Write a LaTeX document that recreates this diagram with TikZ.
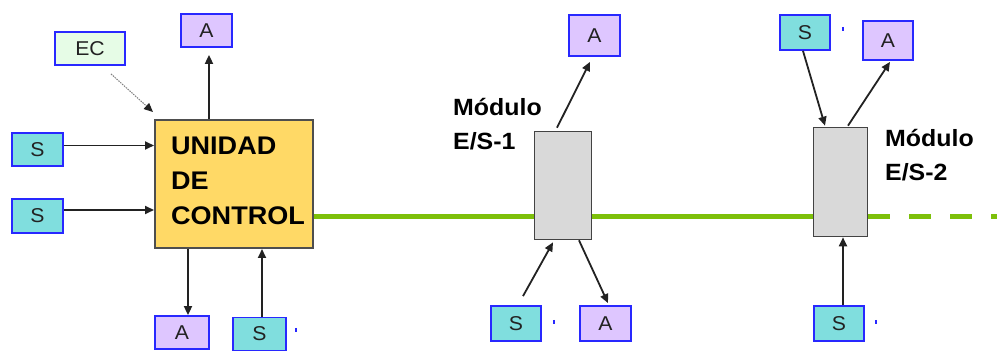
\documentclass[tikz,border=0pt]{standalone}
\usepackage{fontspec}
\setmainfont{Liberation Sans}
\newfontfamily\lblfont[FakeStretch=1.06]{Liberation Sans}
\usetikzlibrary{arrows.meta}
\definecolor{scol}{RGB}{128,222,222}
\definecolor{acol}{RGB}{222,198,255}
\definecolor{eccol}{RGB}{230,252,230}
\definecolor{bcol}{RGB}{40,40,255}
\definecolor{ucol}{RGB}{255,217,102}
\definecolor{mcol}{RGB}{217,217,217}
\definecolor{bus}{RGB}{125,192,10}
\definecolor{ink}{RGB}{34,34,34}
\tikzset{
  smallbox/.style={draw=bcol, line width=1.8pt, inner sep=0pt, text=ink,
    font=\lblfont\fontsize{20}{22}\selectfont},
  sbox/.style={smallbox, fill=scol},
  abox/.style={smallbox, fill=acol},
  ecbox/.style={smallbox, fill=eccol},
  unitbox/.style={draw=ink!80, line width=2pt, fill=ucol, inner sep=0pt,
    minimum width=158pt, minimum height=128pt},
  modbox/.style={draw=ink!85, line width=1.6pt, fill=mcol, inner sep=0pt},
  arr/.style={draw=ink, line width=1.8pt, -{Triangle[length=9pt,width=8pt]}},
  dotarr/.style={draw=gray, line width=1pt, dash pattern=on 1.5pt off 1pt,
    -{Triangle[length=9pt,width=8pt,fill=ink,color=ink]}},
  busline/.style={draw=bus, line width=5pt},
  bustail/.style={busline, dash pattern=on 22pt off 19pt},
  biglbl/.style={font=\lblfont\bfseries\fontsize{23.5}{34}\selectfont, align=left,
    inner sep=0pt, text=black},
  tickmark/.style={draw=bcol, line width=1.2pt},
}
\begin{document}
\begin{tikzpicture}[x=1pt,y=-1pt]
\useasboundingbox (0,0) rectangle (997,352);
% nodes
\node[ecbox, minimum width=70pt, minimum height=33pt] (EC) at (90,48.5) {EC};
\node[abox, minimum width=51pt, minimum height=33pt] (A1) at (206.5,30.5) {A};
\node[unitbox] (U) at (234,184) {};
\node[biglbl, font=\lblfont\bfseries\fontsize{25.5}{35}\selectfont, anchor=base west] (UT) at (171,225) {UNIDAD\\DE\\CONTROL};
\node[sbox, minimum width=51pt, minimum height=33pt] (S1) at (37.5,149.5) {S};
\node[sbox, minimum width=51pt, minimum height=34pt] (S2) at (37.5,216) {S};
\node[abox, minimum width=54pt, minimum height=33pt] (Ab1) at (182,332.5) {A};
\node[sbox, minimum width=53pt, minimum height=33pt] (Sb1) at (259.5,334) {S};

\node[modbox, minimum width=57pt, minimum height=108pt] (M1) at (563,185.5) {};
\node[biglbl, anchor=base west] (M1T) at (453,150) {Módulo\\E/S-1};
\node[abox, minimum width=51pt, minimum height=41pt] (A2) at (594.5,35.5) {A};
\node[sbox, minimum width=50pt, minimum height=35pt] (Sb2) at (516,323.5) {S};
\node[abox, minimum width=51pt, minimum height=35pt] (Ab2) at (605.5,323.5) {A};

\node[modbox, minimum width=54pt, minimum height=109pt] (M2) at (840.5,182) {};
\node[biglbl, anchor=base west] (M2T) at (885,181) {Módulo\\E/S-2};
\node[sbox, minimum width=50pt, minimum height=35pt] (S3) at (805,32.5) {S};
\node[abox, minimum width=50pt, minimum height=39pt] (A3) at (888,40.5) {A};
\node[sbox, minimum width=50pt, minimum height=35pt] (Sb3) at (839,323.5) {S};
\coordinate (busend) at (997,217);

% bus
\draw[busline] ([yshift=-33pt]U.east) -- ([yshift=-33pt]U.east -| M1.west);
\draw[busline] ([yshift=-33pt]U.east -| M1.east) -- ([yshift=-33pt]U.east -| M2.west);
\draw[bustail] ([yshift=-33pt]U.east -| M2.east) -- (busend);

% connectors unit
\draw[arr] ([yshift=4pt]S1.east) -- ([yshift=4pt]S1.east -| U.west);
\draw[arr] ([yshift=6pt]S2.east) -- ([yshift=6pt]S2.east -| U.west);
\draw[dotarr] ([xshift=21pt,yshift=-8pt]EC.south) -- ([xshift=-1pt,yshift=7pt]U.north west);
\draw[arr] ([xshift=-25pt]U.north) -- ([xshift=2.5pt,yshift=-7pt]A1.south);
\draw[arr] ([xshift=-46pt]U.south) -- ([xshift=6pt]Ab1.north);
\draw[arr] ([xshift=2.5pt]Sb1.north) -- ([xshift=2.5pt]Sb1.north |- U.south);

% connectors module 1
\draw[arr] ([xshift=-6pt,yshift=3pt]M1.north) -- ([xshift=-4.5pt,yshift=-5pt]A2.south);
\draw[arr] ([xshift=7pt,yshift=9pt]Sb2.north) -- ([xshift=-10pt,yshift=-2pt]M1.south);
\draw[arr] ([xshift=16pt]M1.south) -- ([xshift=2.5pt,yshift=2pt]Ab2.north);

% connectors module 2
\draw[arr] ([xshift=-2pt]S3.south) -- ([xshift=-15.5pt,yshift=1pt]M2.north);
\draw[arr] ([xshift=7.5pt,yshift=1pt]M2.north) -- ([xshift=2pt,yshift=-1pt]A3.south);
\draw[arr] ([xshift=4pt]Sb3.north) -- ([xshift=4pt]Sb3.north |- M2.south);

% small blue marks
\draw[tickmark] (296,328) -- (296,332);
\draw[tickmark] (554,320) -- (554,324);
\draw[tickmark] (843,27) -- (843,31);
\draw[tickmark] (876,320) -- (876,324);
\end{tikzpicture}
\end{document}
